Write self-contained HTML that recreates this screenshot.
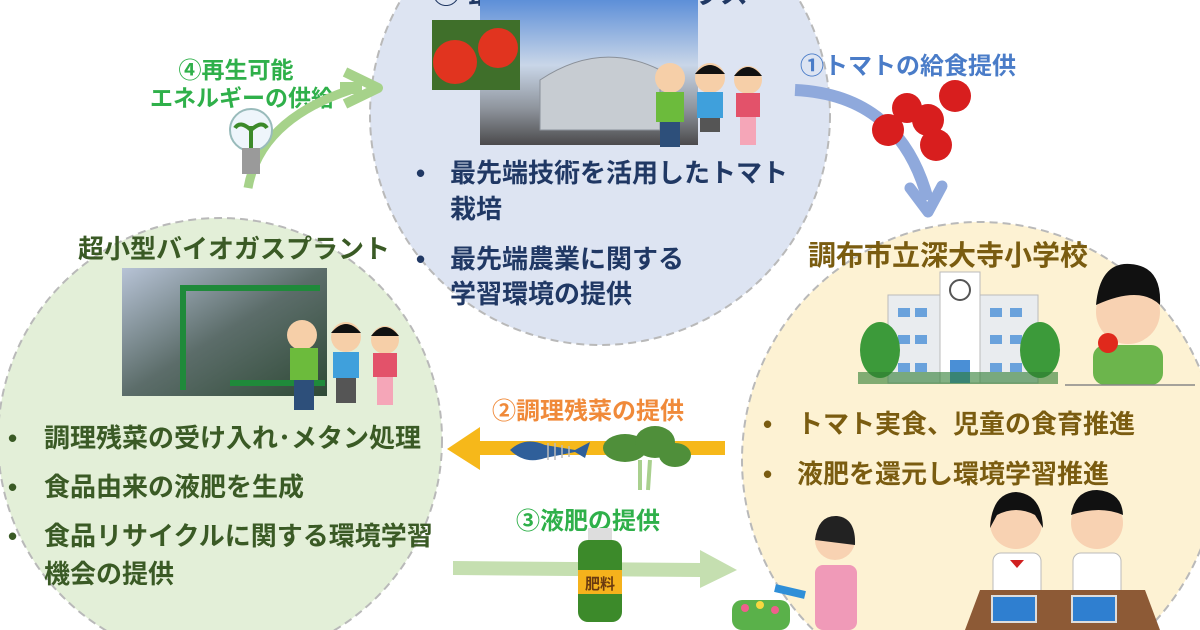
<!DOCTYPE html>
<html><head><meta charset="utf-8"><style>
html,body{margin:0;padding:0;background:#fff;width:1200px;height:630px;overflow:hidden;}
svg{display:block;overflow:hidden}
text{font-family:"Liberation Sans","Noto Sans CJK JP",sans-serif;font-weight:bold;}
</style></head><body>
<svg width="1200" height="630" viewBox="0 0 1200 630" xmlns="http://www.w3.org/2000/svg">
<defs>
<clipPath id="frame"><rect x="0" y="0" width="1200" height="630"/></clipPath>
<linearGradient id="sky" x1="0" y1="0" x2="0" y2="1"><stop offset="0" stop-color="#5d8fd8"/><stop offset="0.45" stop-color="#c9d6e8"/><stop offset="0.75" stop-color="#8e949c"/><stop offset="1" stop-color="#4b4a4c"/></linearGradient>
<linearGradient id="plant" x1="0" y1="0" x2="1" y2="1"><stop offset="0" stop-color="#b7c3d6"/><stop offset="0.5" stop-color="#5c6d6a"/><stop offset="1" stop-color="#2f4a36"/></linearGradient>
</defs>
<g clip-path="url(#frame)">
<circle cx="600" cy="115" r="230" fill="#dde4f2" stroke="#b9b9b9" stroke-width="2" stroke-dasharray="8 5"/>
<circle cx="220" cy="440" r="222" fill="#e3efd8" stroke="#b9b9b9" stroke-width="2" stroke-dasharray="8 5"/>
<circle cx="980" cy="460" r="238" fill="#fdf2d3" stroke="#b9b9b9" stroke-width="2" stroke-dasharray="8 5"/>

<text x="590" y="3" font-size="28" fill="#203864" text-anchor="middle">② 最先端農業実証ハウス</text>
<rect x="480" y="0" width="218" height="145" fill="url(#sky)"/>
<path d="M540 130 L540 80 Q600 40 660 70 L660 130 Z" fill="#c7ccd2" stroke="#8a9099"/>
<rect x="432" y="20" width="88" height="70" fill="#3f6f2a"/>
<circle cx="455" cy="62" r="22" fill="#e1341f"/><circle cx="498" cy="48" r="20" fill="#e1341f"/>
<g>
<circle cx="670" cy="78" r="15" fill="#f6cfa8"/><rect x="656" y="92" width="28" height="30" fill="#6cbb3c"/><rect x="660" y="122" width="20" height="25" fill="#2d4f7a"/>
<circle cx="710" cy="78" r="15" fill="#f6cfa8"/><path d="M695 74 Q710 56 725 74 Z" fill="#111"/><rect x="697" y="92" width="26" height="26" fill="#3fa0dc"/><rect x="700" y="118" width="20" height="14" fill="#555"/>
<circle cx="748" cy="80" r="14" fill="#f6cfa8"/><path d="M734 76 Q748 58 762 76 Z" fill="#111"/><rect x="736" y="93" width="24" height="24" fill="#e3526a"/><rect x="740" y="117" width="16" height="28" fill="#f5a6b8"/>
</g>
<g font-size="26" fill="#203864">
<text x="416" y="182">•</text>
<text x="450" y="182">最先端技術を活用したトマト</text>
<text x="450" y="218">栽培</text>
<text x="416" y="268">•</text>
<text x="450" y="268">最先端農業に関する</text>
<text x="450" y="303">学習環境の提供</text>
</g>

<text x="234" y="258" font-size="26" fill="#3a5a25" text-anchor="middle">超小型バイオガスプラント</text>
<rect x="122" y="268" width="205" height="128" fill="url(#plant)"/>
<rect x="180" y="285" width="6" height="105" fill="#1f8a3a"/><rect x="180" y="285" width="140" height="6" fill="#1f8a3a"/><rect x="230" y="380" width="95" height="6" fill="#1f8a3a"/>
<g>
<circle cx="302" cy="335" r="15" fill="#f6cfa8"/><rect x="290" y="348" width="28" height="32" fill="#6cbb3c"/><rect x="294" y="380" width="20" height="30" fill="#2d4f7a"/>
<circle cx="346" cy="337" r="15" fill="#f6cfa8"/><path d="M331 333 Q346 315 361 333 Z" fill="#111"/><rect x="333" y="352" width="26" height="26" fill="#3fa0dc"/><rect x="336" y="378" width="20" height="25" fill="#555"/>
<circle cx="385" cy="340" r="14" fill="#f6cfa8"/><path d="M371 336 Q385 318 399 336 Z" fill="#111"/><rect x="373" y="353" width="24" height="24" fill="#e3526a"/><rect x="377" y="377" width="16" height="28" fill="#f5a6b8"/>
</g>
<g font-size="26" fill="#3a5a25">
<text x="8" y="447">•</text><text x="44" y="447">調理残菜の受け入れ･メタン処理</text>
<text x="8" y="496">•</text><text x="44" y="496">食品由来の液肥を生成</text>
<text x="8" y="545">•</text><text x="44" y="545">食品リサイクルに関する環境学習</text>
<text x="44" y="583">機会の提供</text>
</g>

<text x="948" y="265" font-size="28" fill="#7a5c10" text-anchor="middle">調布市立深大寺小学校</text>
<g>
<rect x="888" y="295" width="150" height="88" fill="#e9ecef" stroke="#bbb"/>
<rect x="940" y="272" width="40" height="111" fill="#fff" stroke="#bbb"/>
<circle cx="960" cy="290" r="10" fill="#fff" stroke="#555" stroke-width="2"/>
<rect x="950" y="360" width="20" height="23" fill="#4a8fd6"/>
<g fill="#6aa2dc"><rect x="898" y="308" width="12" height="9"/><rect x="915" y="308" width="12" height="9"/><rect x="990" y="308" width="12" height="9"/><rect x="1010" y="308" width="12" height="9"/>
<rect x="898" y="335" width="12" height="9"/><rect x="915" y="335" width="12" height="9"/><rect x="990" y="335" width="12" height="9"/><rect x="1010" y="335" width="12" height="9"/>
<rect x="898" y="363" width="12" height="9"/><rect x="915" y="363" width="12" height="9"/><rect x="990" y="363" width="12" height="9"/><rect x="1010" y="363" width="12" height="9"/></g>
<ellipse cx="880" cy="350" rx="20" ry="28" fill="#3c9a3a"/><ellipse cx="1040" cy="350" rx="20" ry="28" fill="#3c9a3a"/>
<rect x="858" y="372" width="200" height="12" fill="#2e7d32" opacity="0.6"/>
</g>
<g>
<circle cx="1128" cy="312" r="32" fill="#f8d2b2"/><path d="M1096 305 Q1100 262 1130 264 Q1162 266 1160 305 Q1140 285 1096 305 Z" fill="#111"/>
<rect x="1093" y="345" width="70" height="40" rx="12" fill="#6cb54c"/><circle cx="1108" cy="343" r="10" fill="#e0291c"/>
<line x1="1065" y1="385" x2="1195" y2="385" stroke="#888" stroke-width="1.5"/>
</g>
<g font-size="26" fill="#7a5c10">
<text x="763" y="433">•</text><text x="797" y="433">トマト実食、児童の食育推進</text>
<text x="763" y="483">•</text><text x="797" y="483">液肥を還元し環境学習推進</text>
</g>
<g>
<circle cx="835" cy="540" r="20" fill="#f8d2b2"/><path d="M815 540 Q818 515 837 516 Q856 518 855 545 Z" fill="#222"/>
<rect x="815" y="565" width="42" height="65" rx="8" fill="#f09ab8"/>
<path d="M775 588 L805 595" stroke="#2f8fd8" stroke-width="8"/>
<rect x="732" y="600" width="58" height="30" rx="10" fill="#5ab14a"/>
<circle cx="745" cy="608" r="4" fill="#ef5f8c"/><circle cx="760" cy="605" r="4" fill="#f7d840"/><circle cx="775" cy="610" r="4" fill="#ef5f8c"/>
<circle cx="1016" cy="523" r="26" fill="#f8d2b2"/><path d="M990 528 Q992 493 1016 492 Q1042 494 1043 528 L1035 515 Q1016 505 997 515 Z" fill="#111"/>
<rect x="993" y="553" width="48" height="45" rx="8" fill="#fff" stroke="#bbb"/><path d="M1010 560 L1024 560 L1017 568Z" fill="#d02020"/>
<circle cx="1097" cy="523" r="26" fill="#f8d2b2"/><path d="M1071 515 Q1075 490 1097 490 Q1122 492 1123 515 Q1100 505 1071 515 Z" fill="#111"/>
<rect x="1073" y="553" width="48" height="45" rx="8" fill="#fff" stroke="#bbb"/>
<path d="M965 630 L980 590 L1145 590 L1160 630 Z" fill="#8d5a36"/>
<rect x="992" y="596" width="44" height="26" fill="#2f7fd0" stroke="#ddd" stroke-width="2"/><rect x="1072" y="596" width="44" height="26" fill="#2f7fd0" stroke="#ddd" stroke-width="2"/>
</g>

<text x="588" y="419" font-size="24" fill="#f08a3a" text-anchor="middle">②調理残菜の提供</text>
<polygon points="725,441 480,441 480,427 447,449 480,470 480,455 725,455" fill="#f6b81a"/>
<g><path d="M510 450 Q525 436 545 445 L575 450 L590 442 L585 458 L575 452 L545 458 Q525 465 510 450 Z" fill="#2f5f9a"/>
<g stroke="#bbb" stroke-width="1.5"><line x1="548" y1="443" x2="548" y2="460"/><line x1="555" y1="443" x2="555" y2="460"/><line x1="562" y1="445" x2="562" y2="458"/><line x1="569" y1="446" x2="569" y2="457"/></g></g>
<g fill="#4f8f3a"><ellipse cx="625" cy="448" rx="22" ry="14"/><ellipse cx="655" cy="442" rx="20" ry="16"/><ellipse cx="675" cy="455" rx="16" ry="12"/></g>
<path d="M640 460 L640 490 M650 460 L648 490" stroke="#a9d08e" stroke-width="4"/>

<text x="588" y="529" font-size="24" fill="#2fb04a" text-anchor="middle">③液肥の提供</text>
<polygon points="453,561 700,563 700,550 737,570 700,588 700,577 453,575" fill="#c5dfb0"/>
<rect x="588" y="528" width="24" height="14" fill="#ddd"/>
<rect x="578" y="540" width="44" height="82" rx="10" fill="#3c8a2a"/>
<rect x="578" y="570" width="44" height="24" fill="#f5b21c"/>
<text x="600" y="589" font-size="15" fill="#6a3a10" text-anchor="middle">肥料</text>

<text x="908" y="74" font-size="24" fill="#4a7cc8" text-anchor="middle">①トマトの給食提供</text>
<path d="M795 90 Q900 95 928 200" fill="none" stroke="#8fa9dc" stroke-width="12"/>
<path d="M910 188 L928 212 L942 186" fill="none" stroke="#8fa9dc" stroke-width="11" stroke-linecap="round" stroke-linejoin="round"/>
<g fill="#d81e1e"><circle cx="888" cy="130" r="16"/><circle cx="907" cy="108" r="15"/><circle cx="928" cy="120" r="16"/><circle cx="936" cy="145" r="16"/><circle cx="955" cy="96" r="16"/></g>

<text x="236" y="78" font-size="23" fill="#2fb04a" text-anchor="middle">④再生可能</text>
<text x="242" y="106" font-size="23" fill="#2fb04a" text-anchor="middle">エネルギーの供給</text>
<path d="M248 188 Q260 120 350 90" fill="none" stroke="#a6d28a" stroke-width="9"/>
<path d="M345 72 L378 88 L345 104" fill="none" stroke="#a6d28a" stroke-width="10" stroke-linejoin="round"/>
<rect x="340" y="82" width="22" height="12" fill="#a6d28a"/>
<circle cx="251" cy="130" r="21" fill="#eef5fb" stroke="#9bb" stroke-width="2"/>
<rect x="242" y="148" width="18" height="26" fill="#9a9a9a"/>
<path d="M251 148 L251 126 M251 130 Q240 120 235 128 M251 130 Q262 120 267 128" stroke="#3c8a2a" stroke-width="4" fill="none"/>
</g>
</svg>
</body></html>
